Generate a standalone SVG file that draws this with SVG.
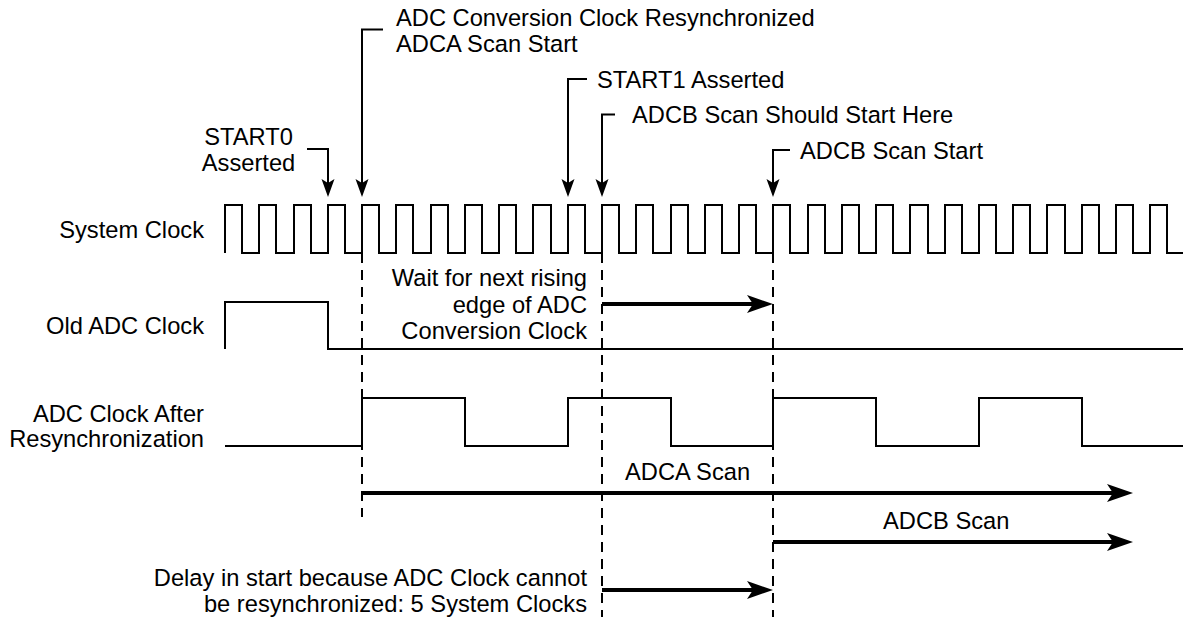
<svg xmlns="http://www.w3.org/2000/svg" width="1183" height="620" viewBox="0 0 1183 620">
<style>
text{font-family:"Liberation Sans",Arial,sans-serif;font-size:23.7px;fill:#000}
.sig{fill:none;stroke:#000;stroke-width:2}
.lead{fill:none;stroke:#000;stroke-width:2}
.dash{fill:none;stroke:#000;stroke-width:2;stroke-dasharray:10 7}
.big{fill:none;stroke:#000;stroke-width:4}
.e{text-anchor:end}
.m{text-anchor:middle}
</style>
<defs>
<marker id="ah" markerUnits="userSpaceOnUse" orient="auto" refX="8" refY="0" markerWidth="20" markerHeight="14" viewBox="0 -7 20 14" overflow="visible">
<path d="M0,-6.5 L18,0 L0,6.5 L4,0 Z" fill="#000"/>
</marker>
<marker id="bh" markerUnits="userSpaceOnUse" orient="auto" refX="14" refY="0" markerWidth="28" markerHeight="20" viewBox="0 -10 28 20" overflow="visible">
<path d="M0,-9 L26,0 L0,9 L6,0 Z" fill="#000"/>
</marker>
</defs>
<rect width="1183" height="620" fill="#fff"/>

<g id="sysclk">
<text class="e" x="204" y="238">System Clock</text>
<path class="sig" d="M225,253 V205 H242 V253 H259 V205 H276 V253 H294 V205 H311 V253 H328 V205 H345 V253 H362 V205 H379 V253 H396 V205 H413 V253 H431 V205 H448 V253 H465 V205 H482 V253 H499 V205 H516 V253 H533 V205 H551 V253 H568 V205 H585 V253 H602 V205 H619 V253 H636 V205 H653 V253 H671 V205 H688 V253 H705 V205 H722 V253 H739 V205 H756 V253 H773 V205 H790 V253 H808 V205 H825 V253 H842 V205 H859 V253 H876 V205 H893 V253 H910 V205 H928 V253 H945 V205 H962 V253 H979 V205 H996 V253 H1013 V205 H1030 V253 H1047 V205 H1065 V253 H1082 V205 H1099 V253 H1116 V205 H1133 V253 H1150 V205 H1167 V253 H1183"/>
</g>

<g id="oldclk">
<text class="e" x="204" y="334">Old ADC Clock</text>
<path class="sig" d="M225,349 V302 H328 V349 H1183"/>
</g>

<g id="newclk">
<text class="e" x="204" y="422">ADC Clock After</text>
<text class="e" x="204" y="447">Resynchronization</text>
<path class="sig" d="M225,446 H362 V398 H465 V446 H568 V398 H671 V446 H773 V398 H876 V446 H979 V398 H1082 V446 H1183"/>
</g>

<g id="lbl-start0">
<text class="m" x="248.5" y="144.5">START0</text>
<text class="m" x="248.5" y="170.5">Asserted</text>
</g>
<g id="lbl-resync">
<text x="396" y="26">ADC Conversion Clock Resynchronized</text>
<text x="396" y="52">ADCA Scan Start</text>
</g>
<g id="lbl-start1">
<text x="597" y="87.5">START1 Asserted</text>
</g>
<g id="lbl-should">
<text x="632" y="123">ADCB Scan Should Start Here</text>
</g>
<g id="lbl-bstart">
<text x="800" y="158.5">ADCB Scan Start</text>
</g>
<g id="lbl-wait">
<text class="e" x="587" y="286">Wait for next rising</text>
<text class="e" x="587" y="312.5">edge of ADC</text>
<text class="e" x="587" y="339">Conversion Clock</text>
</g>
<g id="lbl-adca">
<text x="625" y="480">ADCA Scan</text>
</g>
<g id="lbl-adcb">
<text x="883" y="529">ADCB Scan</text>
</g>
<g id="lbl-delay">
<text class="e" x="587" y="586">Delay in start because ADC Clock cannot</text>
<text class="e" x="587" y="612">be resynchronized: 5 System Clocks</text>
</g>

<g id="connectors">
<path class="dash" d="M362,253 V517"/>
<path class="dash" d="M602,253 V617"/>
<path class="dash" d="M773,253 V617"/>
<path class="lead" d="M307,149 H328 V187" marker-end="url(#ah)"/>
<path class="lead" d="M383,29.5 H362 V187" marker-end="url(#ah)"/>
<path class="lead" d="M587,79 H568 V187" marker-end="url(#ah)"/>
<path class="lead" d="M615,114.5 H602 V187" marker-end="url(#ah)"/>
<path class="lead" d="M790,150 H773 V187" marker-end="url(#ah)"/>
<path class="big" d="M602,304 H761" marker-end="url(#bh)"/>
<path class="big" d="M362,493 H1121" marker-end="url(#bh)"/>
<path class="big" d="M773,542 H1121" marker-end="url(#bh)"/>
<path class="big" d="M602,590 H761" marker-end="url(#bh)"/>
</g>
</svg>
